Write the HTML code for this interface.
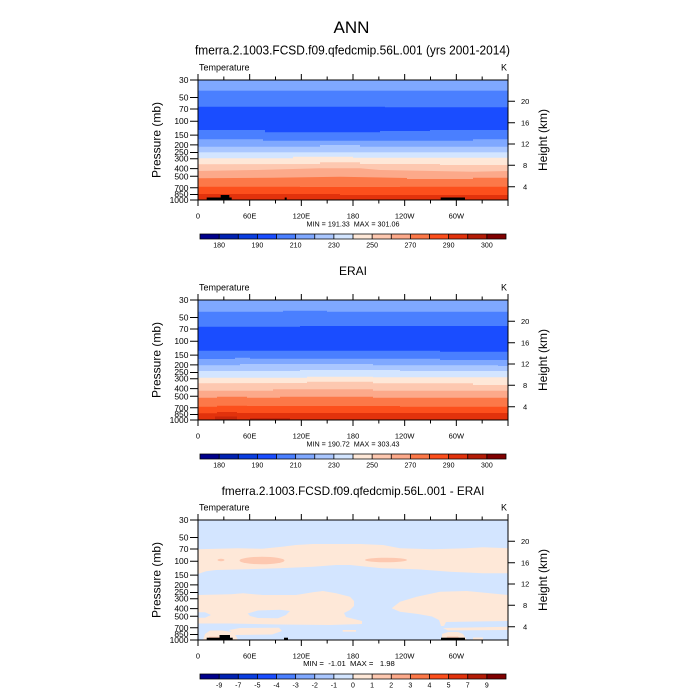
<!DOCTYPE html>
<html><head><meta charset="utf-8"><style>
html,body{margin:0;padding:0;background:#fff;}
svg{display:block;font-family:"Liberation Sans",sans-serif;}
</style></head><body>
<svg width="700" height="700" viewBox="0 0 700 700" xmlns="http://www.w3.org/2000/svg">
<rect width="700" height="700" fill="#fff"/>

<!-- Titles -->
<text x="351.5" y="33" font-size="17" text-anchor="middle">ANN</text>
<text x="352.5" y="54.5" font-size="12.5" text-anchor="middle" textLength="315" lengthAdjust="spacingAndGlyphs">fmerra.2.1003.FCSD.f09.qfedcmip.56L.001 (yrs 2001-2014)</text>
<text x="353" y="275" font-size="12" text-anchor="middle">ERAI</text>
<text x="353" y="495" font-size="12" text-anchor="middle" textLength="262.7" lengthAdjust="spacingAndGlyphs">fmerra.2.1003.FCSD.f09.qfedcmip.56L.001 - ERAI</text>

<!-- ===== Panel 1 data ===== -->
<g>
<rect x="198" y="80" width="310" height="120" fill="#7fa8ff"/>
<rect x="198" y="90.7" width="310" height="109.3" fill="#4a7fff"/>
<polygon fill="#1a4dff" points="198,106.7 385,106.7 385,107.3 508,107.3 508,200 198,200"/>
<polygon fill="#4a7fff" points="198,130 265,130 265,132.3 380,132.3 380,131 430,131 430,130 508,130 508,200 198,200"/>
<polygon fill="#7fa8ff" points="198,139.3 263,139.3 263,140.7 473,140.7 473,139.3 508,139.3 508,200 198,200"/>
<polygon fill="#aac7ff" points="198,146.7 320,146.7 320,145 360,145 360,146.7 508,146.7 508,200 198,200"/>
<rect x="198" y="152.3" width="310" height="47.7" fill="#d3e5ff"/>
<polygon fill="#fee8d8" points="198,158.3 293,158.3 293,156.7 353,156.7 353,157.7 508,157.7 508,200 198,200"/>
<polygon fill="#fdc8b0" points="198,164.3 320,164 320,162.3 360,162.3 360,164 440,164 440,165 508,165 508,200 198,200"/>
<polygon fill="#fca98a" points="198,171 257,170 320,168.3 360,168.3 380,170 473,171.7 508,171 508,200 198,200"/>
<polygon fill="#fc7848" points="198,178.3 273,177.7 340,176.7 407,178 407,179 473,179 473,177.7 508,177.7 508,200 198,200"/>
<polygon fill="#fc4f1c" points="198,186.7 300,186.7 300,187 400,187 400,186.7 508,186.7 508,200 198,200"/>
<polygon fill="#e2320c" points="198,194 340,194 340,195 508,195 508,200 198,200"/>
<rect x="206.7" y="197.5" width="25" height="2.5" fill="#000"/>
<rect x="220.7" y="195" width="8.6" height="5" fill="#000"/>
<rect x="284.7" y="197.5" width="2" height="2.5" fill="#000"/>
<rect x="440.7" y="197.5" width="24.3" height="2.5" fill="#000"/>
</g>

<!-- ===== Panel 2 data ===== -->
<g>
<rect x="198" y="300" width="310" height="120" fill="#7fa8ff"/>
<polygon fill="#4a7fff" points="198,311.7 283,311.7 283,310.7 327,310.7 327,311.7 508,311.7 508,420 198,420"/>
<polygon fill="#1a4dff" points="198,326.7 300,326.7 300,326 508,326 508,420 198,420"/>
<polygon fill="#4a7fff" points="198,350.7 440,350.7 440,351.7 508,351.7 508,420 198,420"/>
<polygon fill="#7fa8ff" points="198,359 235,359 235,357.7 250,357.7 250,358.7 440,358.7 440,360 508,360 508,420 198,420"/>
<polygon fill="#aac7ff" points="198,365.3 240,365.3 240,364 373,364 373,365.3 498,365.3 498,366 508,366 508,420 198,420"/>
<polygon fill="#d3e5ff" points="198,371 300,371 300,370 400,370 400,371 508,371 508,420 198,420"/>
<polygon fill="#fee8d8" points="198,377.7 307,377.7 307,376.7 373,376.7 373,377.3 508,377.3 508,420 198,420"/>
<polygon fill="#fdc8b0" points="198,383.3 307,383 307,381.7 373,381.7 373,383.3 473,383.3 473,385 508,385 508,420 198,420"/>
<polygon fill="#fca98a" points="198,390.7 273,390.7 273,389.3 373,389.3 373,390.7 508,390.7 508,420 198,420"/>
<polygon fill="#fc7848" points="198,397.7 217,397.7 217,396.7 247,396.7 247,397.7 280,397.7 280,396.7 373,396.7 373,397.7 508,397.7 508,420 198,420"/>
<polygon fill="#fc4f1c" points="198,406.7 217,406.7 217,405.7 247,405.7 247,406 400,406 400,406.7 508,406.7 508,420 198,420"/>
<polygon fill="#e2320c" points="198,413.3 217,413.3 217,412 237,412 237,413 508,413 508,414 508,420 198,420"/>
<rect x="215" y="416.5" width="22" height="3.5" fill="#c8260a"/>
<rect x="250" y="418" width="40" height="2" fill="#c8260a"/>
</g>

<!-- ===== Panel 3 data ===== -->
<g>
<rect x="198" y="520" width="310" height="120" fill="#d3e5ff"/>
<polygon fill="#fee8d8" points="198,549.3 218,548.7 238,548.3 262,548.7 282,546.7 296,545 313,544 360,544 383,545 400,548.3 433,549.3 466,548.3 483,547.3 508,548.3 508,573.3 483,573.3 450,571.7 417,569.3 383,568.3 350,565 336,565 313,566.7 279,568.3 246,569.3 216,570 206,571.3 198,574"/>
<ellipse cx="262" cy="560.5" rx="22.5" ry="3.8" fill="#fdc8b0"/>
<ellipse cx="221" cy="560" rx="3.5" ry="1.2" fill="#fdc8b0"/>
<ellipse cx="386" cy="560" rx="21" ry="2.3" fill="#fdc8b0"/>
<polygon fill="#fee8d8" points="198,595 231,594.3 243,593.3 263,595 296,595 313,592.3 323,591 336,593.3 350,596.7 354,601 354,606 350,610 344,613 346,617 356,619.5 362,621 362,624 330,625 280,624.5 230,623.5 198,623.5"/>
<polygon fill="#d3e5ff" points="247.7,613.5 258,610.5 280,609.7 290,611 286,615 278,618.3 258,618 250,616"/>
<polygon fill="#d3e5ff" points="198,612.3 205,612.3 211,615 205,617.7 198,617.7"/>
<polygon fill="#fee8d8" points="229,630 240,628 279,627.7 282,631 272,634.5 235,635"/>
<polygon fill="#fee8d8" points="203,640 205,634 210,630.5 222,630.5 232,632 236,636 238,640"/>
<rect x="209" y="636.7" width="12" height="2.5" fill="#fdc8b0"/>
<polygon fill="#fee8d8" points="342.7,630 356,630 356,631.7 342.7,631.7"/>
<polygon fill="#fee8d8" points="391.7,608.3 400,601.7 416.7,596.7 440,591.7 466.7,591 490,593.3 508,595 508,621 476,621.5 446,622 444,626 441,626 439,620 432,616.5 418,614 400,611.7"/>
<polygon fill="#fee8d8" points="443,628 508,626.7 508,630 448,630.5"/>
<polygon fill="#fee8d8" points="441.7,640 442,634 448,632 458,632 463,634 467,640"/>
<polygon fill="#fdc8b0" points="446,640 447,636.5 458,636.5 461,640"/>
<rect x="473" y="637.5" width="10" height="2" fill="#fee8d8"/>
<rect x="206.7" y="637.7" width="26" height="2.3" fill="#000"/>
<rect x="219.5" y="635" width="10.5" height="5" fill="#000"/>
<rect x="284" y="637.7" width="4" height="2.3" fill="#000"/>
<rect x="441" y="637.7" width="24" height="2.3" fill="#000"/>
</g>

<!-- ===== Axes (3 panels) ===== -->
<g id="ax1">
<rect x="198" y="80" width="310" height="120" fill="none" stroke="#000" stroke-width="1"/>
<path stroke="#000" stroke-width="1" fill="none" d="
M198,200V206 M223.83,200V203.5 M249.67,200V206 M275.5,200V203.5 M301.33,200V206 M327.17,200V203.5 M353,200V206 M378.83,200V203.5 M404.67,200V206 M430.5,200V203.5 M456.33,200V206 M482.17,200V203.5 M508,200V206
M198,80V74 M223.83,80V76.5 M249.67,80V74 M275.5,80V76.5 M301.33,80V74 M327.17,80V76.5 M353,80V74 M378.83,80V76.5 M404.67,80V74 M430.5,80V76.5 M456.33,80V74 M482.17,80V76.5 M508,80V74
M190,80H198 M190,97.48H198 M190,109H198 M190,121.2H198 M190,135.08H198 M190,144.92H198 M190,152.56H198 M190,158.8H198 M190,168.64H198 M190,176.28H198 M190,187.8H198 M190,194.44H198 M190,200H198
M508,101.3H515 M508,122.7H515 M508,144H515 M508,165.3H515 M508,186.7H515"/>
<g font-size="8.5" text-anchor="end">
<text x="188.5" y="83">30</text><text x="188.5" y="100.5">50</text><text x="188.5" y="112">70</text><text x="188.5" y="124.2">100</text><text x="188.5" y="138.1">150</text><text x="188.5" y="147.9">200</text><text x="188.5" y="155.2">250</text><text x="188.5" y="161.6">300</text><text x="188.5" y="171.6">400</text><text x="188.5" y="179.3">500</text><text x="188.5" y="190.8">700</text><text x="188.5" y="197.2">850</text><text x="188.5" y="203">1000</text>
</g>
<g font-size="7.5" text-anchor="start">
<text x="521" y="104">20</text><text x="521" y="125.4">16</text><text x="521" y="146.7">12</text><text x="523" y="168">8</text><text x="523" y="189.4">4</text>
</g>
<g font-size="7.5" text-anchor="middle">
<text x="198" y="218.5">0</text><text x="249.67" y="218.5">60E</text><text x="301.33" y="218.5">120E</text><text x="353" y="218.5">180</text><text x="404.67" y="218.5">120W</text><text x="456.33" y="218.5">60W</text>
</g>
<text x="199" y="70.5" font-size="9">Temperature</text>
<text x="507" y="70.5" font-size="9" text-anchor="end">K</text>
<text transform="translate(160.5,140) rotate(-90)" font-size="12" text-anchor="middle">Pressure (mb)</text>
<text transform="translate(547,140) rotate(-90)" font-size="12" text-anchor="middle">Height (km)</text>
</g>

<g transform="translate(0,220)">
<rect x="198" y="80" width="310" height="120" fill="none" stroke="#000" stroke-width="1"/>
<path stroke="#000" stroke-width="1" fill="none" d="
M198,200V206 M223.83,200V203.5 M249.67,200V206 M275.5,200V203.5 M301.33,200V206 M327.17,200V203.5 M353,200V206 M378.83,200V203.5 M404.67,200V206 M430.5,200V203.5 M456.33,200V206 M482.17,200V203.5 M508,200V206
M198,80V74 M223.83,80V76.5 M249.67,80V74 M275.5,80V76.5 M301.33,80V74 M327.17,80V76.5 M353,80V74 M378.83,80V76.5 M404.67,80V74 M430.5,80V76.5 M456.33,80V74 M482.17,80V76.5 M508,80V74
M190,80H198 M190,97.48H198 M190,109H198 M190,121.2H198 M190,135.08H198 M190,144.92H198 M190,152.56H198 M190,158.8H198 M190,168.64H198 M190,176.28H198 M190,187.8H198 M190,194.44H198 M190,200H198
M508,101.3H515 M508,122.7H515 M508,144H515 M508,165.3H515 M508,186.7H515"/>
<g font-size="8.5" text-anchor="end">
<text x="188.5" y="83">30</text><text x="188.5" y="100.5">50</text><text x="188.5" y="112">70</text><text x="188.5" y="124.2">100</text><text x="188.5" y="138.1">150</text><text x="188.5" y="147.9">200</text><text x="188.5" y="155.2">250</text><text x="188.5" y="161.6">300</text><text x="188.5" y="171.6">400</text><text x="188.5" y="179.3">500</text><text x="188.5" y="190.8">700</text><text x="188.5" y="197.2">850</text><text x="188.5" y="203">1000</text>
</g>
<g font-size="7.5" text-anchor="start">
<text x="521" y="104">20</text><text x="521" y="125.4">16</text><text x="521" y="146.7">12</text><text x="523" y="168">8</text><text x="523" y="189.4">4</text>
</g>
<g font-size="7.5" text-anchor="middle">
<text x="198" y="218.5">0</text><text x="249.67" y="218.5">60E</text><text x="301.33" y="218.5">120E</text><text x="353" y="218.5">180</text><text x="404.67" y="218.5">120W</text><text x="456.33" y="218.5">60W</text>
</g>
<text x="199" y="70.5" font-size="9">Temperature</text>
<text x="507" y="70.5" font-size="9" text-anchor="end">K</text>
<text transform="translate(160.5,140) rotate(-90)" font-size="12" text-anchor="middle">Pressure (mb)</text>
<text transform="translate(547,140) rotate(-90)" font-size="12" text-anchor="middle">Height (km)</text>
</g>

<g transform="translate(0,440)">
<rect x="198" y="80" width="310" height="120" fill="none" stroke="#000" stroke-width="1"/>
<path stroke="#000" stroke-width="1" fill="none" d="
M198,200V206 M223.83,200V203.5 M249.67,200V206 M275.5,200V203.5 M301.33,200V206 M327.17,200V203.5 M353,200V206 M378.83,200V203.5 M404.67,200V206 M430.5,200V203.5 M456.33,200V206 M482.17,200V203.5 M508,200V206
M198,80V74 M223.83,80V76.5 M249.67,80V74 M275.5,80V76.5 M301.33,80V74 M327.17,80V76.5 M353,80V74 M378.83,80V76.5 M404.67,80V74 M430.5,80V76.5 M456.33,80V74 M482.17,80V76.5 M508,80V74
M190,80H198 M190,97.48H198 M190,109H198 M190,121.2H198 M190,135.08H198 M190,144.92H198 M190,152.56H198 M190,158.8H198 M190,168.64H198 M190,176.28H198 M190,187.8H198 M190,194.44H198 M190,200H198
M508,101.3H515 M508,122.7H515 M508,144H515 M508,165.3H515 M508,186.7H515"/>
<g font-size="8.5" text-anchor="end">
<text x="188.5" y="83">30</text><text x="188.5" y="100.5">50</text><text x="188.5" y="112">70</text><text x="188.5" y="124.2">100</text><text x="188.5" y="138.1">150</text><text x="188.5" y="147.9">200</text><text x="188.5" y="155.2">250</text><text x="188.5" y="161.6">300</text><text x="188.5" y="171.6">400</text><text x="188.5" y="179.3">500</text><text x="188.5" y="190.8">700</text><text x="188.5" y="197.2">850</text><text x="188.5" y="203">1000</text>
</g>
<g font-size="7.5" text-anchor="start">
<text x="521" y="104">20</text><text x="521" y="125.4">16</text><text x="521" y="146.7">12</text><text x="523" y="168">8</text><text x="523" y="189.4">4</text>
</g>
<g font-size="7.5" text-anchor="middle">
<text x="198" y="218.5">0</text><text x="249.67" y="218.5">60E</text><text x="301.33" y="218.5">120E</text><text x="353" y="218.5">180</text><text x="404.67" y="218.5">120W</text><text x="456.33" y="218.5">60W</text>
</g>
<text x="199" y="70.5" font-size="9">Temperature</text>
<text x="507" y="70.5" font-size="9" text-anchor="end">K</text>
<text transform="translate(160.5,140) rotate(-90)" font-size="12" text-anchor="middle">Pressure (mb)</text>
<text transform="translate(547,140) rotate(-90)" font-size="12" text-anchor="middle">Height (km)</text>
</g>

<!-- MIN/MAX -->
<text x="353" y="226.5" font-size="7.5" text-anchor="middle" textLength="93" lengthAdjust="spacingAndGlyphs" style="white-space:pre">MIN = 191.33  MAX = 301.06</text>
<text x="353" y="446.5" font-size="7.5" text-anchor="middle" textLength="93" lengthAdjust="spacingAndGlyphs" style="white-space:pre">MIN = 190.72  MAX = 303.43</text>
<text x="349" y="666" font-size="7.5" text-anchor="middle" textLength="91.7" lengthAdjust="spacingAndGlyphs" style="white-space:pre">MIN =  -1.01  MAX =   1.98</text>

<!-- Colorbars -->
<g id="cb">
<rect x="200" y="234" width="19.125" height="5" fill="#00008c"/>
<rect x="219.125" y="234" width="19.125" height="5" fill="#0022b2"/>
<rect x="238.25" y="234" width="19.125" height="5" fill="#0a3ee0"/>
<rect x="257.375" y="234" width="19.125" height="5" fill="#1a4dff"/>
<rect x="276.5" y="234" width="19.125" height="5" fill="#4a7fff"/>
<rect x="295.625" y="234" width="19.125" height="5" fill="#7fa8ff"/>
<rect x="314.75" y="234" width="19.125" height="5" fill="#aac7ff"/>
<rect x="333.875" y="234" width="19.125" height="5" fill="#d3e5ff"/>
<rect x="353" y="234" width="19.125" height="5" fill="#fee8d8"/>
<rect x="372.125" y="234" width="19.125" height="5" fill="#fdc8b0"/>
<rect x="391.25" y="234" width="19.125" height="5" fill="#fca98a"/>
<rect x="410.375" y="234" width="19.125" height="5" fill="#fc7848"/>
<rect x="429.5" y="234" width="19.125" height="5" fill="#fc4f1c"/>
<rect x="448.625" y="234" width="19.125" height="5" fill="#e2320c"/>
<rect x="467.75" y="234" width="19.125" height="5" fill="#b41c06"/>
<rect x="486.875" y="234" width="19.125" height="5" fill="#800000"/>
<path stroke="#000" stroke-width="0.8" fill="none" d="M200,234H506V239H200Z M219.125,234V239 M238.25,234V239 M257.375,234V239 M276.5,234V239 M295.625,234V239 M314.75,234V239 M333.875,234V239 M353,234V239 M372.125,234V239 M391.25,234V239 M410.375,234V239 M429.5,234V239 M448.625,234V239 M467.75,234V239 M486.875,234V239"/>
</g>
<g font-size="7" text-anchor="middle">
<text x="219.125" y="247.5">180</text><text x="257.375" y="247.5">190</text><text x="295.625" y="247.5">210</text><text x="333.875" y="247.5">230</text><text x="372.125" y="247.5">250</text><text x="410.375" y="247.5">270</text><text x="448.625" y="247.5">290</text><text x="486.875" y="247.5">300</text>
</g>

<g transform="translate(0,220)">
<rect x="200" y="234" width="19.125" height="5" fill="#00008c"/>
<rect x="219.125" y="234" width="19.125" height="5" fill="#0022b2"/>
<rect x="238.25" y="234" width="19.125" height="5" fill="#0a3ee0"/>
<rect x="257.375" y="234" width="19.125" height="5" fill="#1a4dff"/>
<rect x="276.5" y="234" width="19.125" height="5" fill="#4a7fff"/>
<rect x="295.625" y="234" width="19.125" height="5" fill="#7fa8ff"/>
<rect x="314.75" y="234" width="19.125" height="5" fill="#aac7ff"/>
<rect x="333.875" y="234" width="19.125" height="5" fill="#d3e5ff"/>
<rect x="353" y="234" width="19.125" height="5" fill="#fee8d8"/>
<rect x="372.125" y="234" width="19.125" height="5" fill="#fdc8b0"/>
<rect x="391.25" y="234" width="19.125" height="5" fill="#fca98a"/>
<rect x="410.375" y="234" width="19.125" height="5" fill="#fc7848"/>
<rect x="429.5" y="234" width="19.125" height="5" fill="#fc4f1c"/>
<rect x="448.625" y="234" width="19.125" height="5" fill="#e2320c"/>
<rect x="467.75" y="234" width="19.125" height="5" fill="#b41c06"/>
<rect x="486.875" y="234" width="19.125" height="5" fill="#800000"/>
<path stroke="#000" stroke-width="0.8" fill="none" d="M200,234H506V239H200Z M219.125,234V239 M238.25,234V239 M257.375,234V239 M276.5,234V239 M295.625,234V239 M314.75,234V239 M333.875,234V239 M353,234V239 M372.125,234V239 M391.25,234V239 M410.375,234V239 M429.5,234V239 M448.625,234V239 M467.75,234V239 M486.875,234V239"/>
<g font-size="7" text-anchor="middle">
<text x="219.125" y="247.5">180</text><text x="257.375" y="247.5">190</text><text x="295.625" y="247.5">210</text><text x="333.875" y="247.5">230</text><text x="372.125" y="247.5">250</text><text x="410.375" y="247.5">270</text><text x="448.625" y="247.5">290</text><text x="486.875" y="247.5">300</text>
</g>
</g>

<g transform="translate(0,440)">
<rect x="200" y="234" width="19.125" height="5" fill="#00008c"/>
<rect x="219.125" y="234" width="19.125" height="5" fill="#0022b2"/>
<rect x="238.25" y="234" width="19.125" height="5" fill="#0a3ee0"/>
<rect x="257.375" y="234" width="19.125" height="5" fill="#1a4dff"/>
<rect x="276.5" y="234" width="19.125" height="5" fill="#4a7fff"/>
<rect x="295.625" y="234" width="19.125" height="5" fill="#7fa8ff"/>
<rect x="314.75" y="234" width="19.125" height="5" fill="#aac7ff"/>
<rect x="333.875" y="234" width="19.125" height="5" fill="#d3e5ff"/>
<rect x="353" y="234" width="19.125" height="5" fill="#fee8d8"/>
<rect x="372.125" y="234" width="19.125" height="5" fill="#fdc8b0"/>
<rect x="391.25" y="234" width="19.125" height="5" fill="#fca98a"/>
<rect x="410.375" y="234" width="19.125" height="5" fill="#fc7848"/>
<rect x="429.5" y="234" width="19.125" height="5" fill="#fc4f1c"/>
<rect x="448.625" y="234" width="19.125" height="5" fill="#e2320c"/>
<rect x="467.75" y="234" width="19.125" height="5" fill="#b41c06"/>
<rect x="486.875" y="234" width="19.125" height="5" fill="#800000"/>
<path stroke="#000" stroke-width="0.8" fill="none" d="M200,234H506V239H200Z M219.125,234V239 M238.25,234V239 M257.375,234V239 M276.5,234V239 M295.625,234V239 M314.75,234V239 M333.875,234V239 M353,234V239 M372.125,234V239 M391.25,234V239 M410.375,234V239 M429.5,234V239 M448.625,234V239 M467.75,234V239 M486.875,234V239"/>
<g font-size="7" text-anchor="middle">
<text x="219.125" y="247.5">-9</text><text x="238.25" y="247.5">-7</text><text x="257.375" y="247.5">-5</text><text x="276.5" y="247.5">-4</text><text x="295.625" y="247.5">-3</text><text x="314.75" y="247.5">-2</text><text x="333.875" y="247.5">-1</text><text x="353" y="247.5">0</text><text x="372.125" y="247.5">1</text><text x="391.25" y="247.5">2</text><text x="410.375" y="247.5">3</text><text x="429.5" y="247.5">4</text><text x="448.625" y="247.5">5</text><text x="467.75" y="247.5">7</text><text x="486.875" y="247.5">9</text>
</g>
</g>
</svg>
</body></html>
